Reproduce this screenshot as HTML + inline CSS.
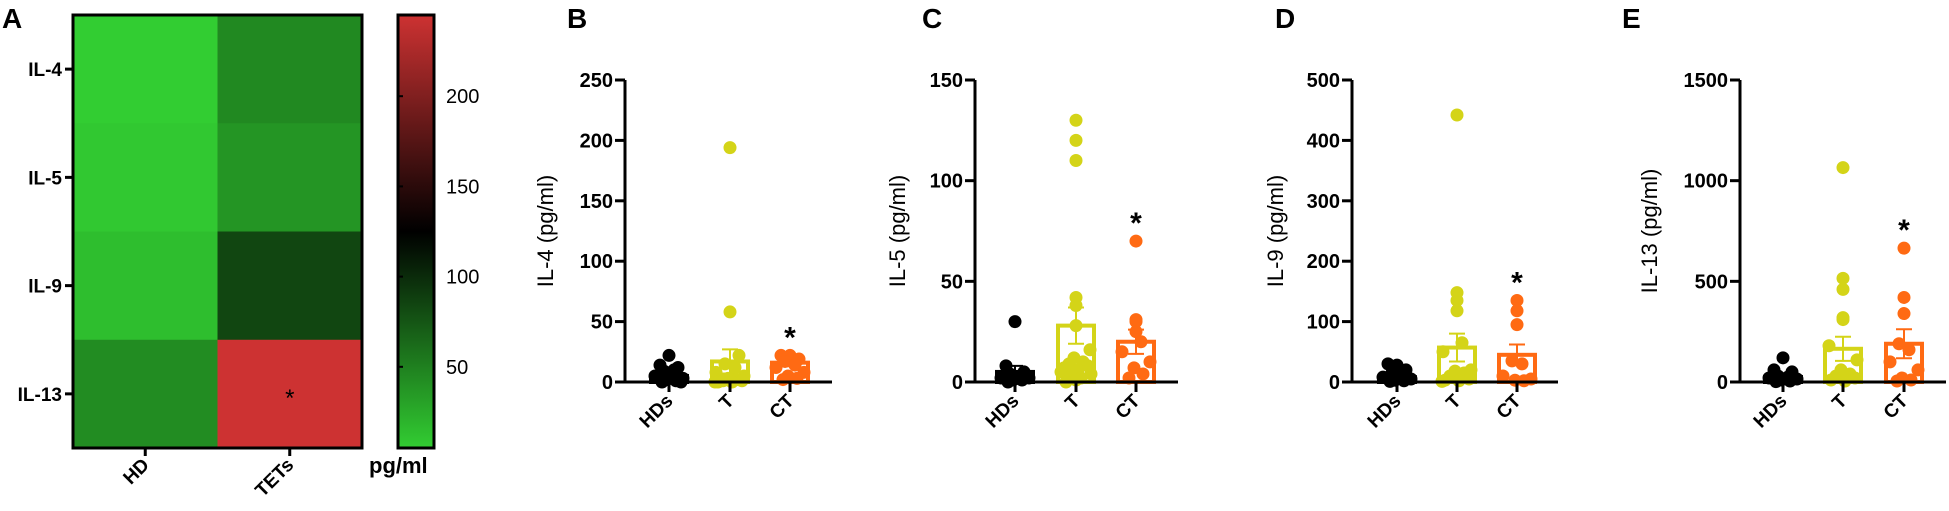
<!DOCTYPE html>
<html><head><meta charset="utf-8">
<style>
html,body{margin:0;padding:0;background:#fff;}
svg{display:block;font-family:"Liberation Sans",Arial,sans-serif;}
</style></head>
<body>
<svg id="fig" width="1949" height="511" viewBox="0 0 1949 511" xmlns="http://www.w3.org/2000/svg">
<defs>
<linearGradient id="cbar" x1="0" y1="1" x2="0" y2="0">
<stop offset="0" stop-color="rgb(50,205,50)"/>
<stop offset="0.5" stop-color="rgb(0,0,0)"/>
<stop offset="1" stop-color="rgb(205,50,50)"/>
</linearGradient>
</defs>
</svg>
<script>
// ---------- Heatmap data ----------
const hmRows = ["IL-4","IL-5","IL-9","IL-13"];
const hmCols = ["HD","TETs"];
const hmHD = [5, 8, 14, 43];
const hmTETs = [45, 38, 84, 245];
const hmStar = [[3,1]];
const cbTicks = [50,100,150,200];

// ---------- Bar/scatter panel data ----------
const groups = ["HDs","T","CT"];
const panelLetters = ["B","C","D","E"];
const panelTitles = ["IL-4 (pg/ml)","IL-5 (pg/ml)","IL-9 (pg/ml)","IL-13 (pg/ml)"];
const yMaxes = [250,150,500,1500];
const yTicksB = [0,50,100,150,200,250];
const yTicksC = [0,50,100,150];
const yTicksD = [0,100,200,300,400,500];
const yTicksE = [0,500,1000,1500];
const meansB = [5,17,16], semB = [3,10,3];
const meansC = [5,28,20], semC = [3,9,6];
const meansD = [8,57,45], semD = [3,23,17];
const meansE = [25,165,190], semE = [10,60,72];
const ptsB = [[22,14,12,9,10,5,3,2,1,0,0],[194,58,22,15,12,8,5,3,2,1,1,0,0,0],[22,22,19,17,14,12,8,5,3,2]];
const ptsC = [[30,8,5,4,3,2,2,1,1,0],[130,120,110,42,38,28,16,12,10,9,8,7,6,5,4,3,2,1,0],[70,31,30,25,20,15,10,7,4,2]];
const ptsD = [[28,30,20,15,10,8,5,3,2,1],[442,148,135,118,65,50,20,18,15,10,5,3,2,1],[135,118,95,35,30,10,5,3,2]];
const ptsE = [[120,60,50,30,25,20,15,10,5,2],[1065,515,460,320,310,180,110,60,40,30,20,10,5],[665,420,340,190,160,100,60,20,10,5]];

const NS="http://www.w3.org/2000/svg";
const svg=document.getElementById('fig');
function mk(tag,attrs,parent){const e=document.createElementNS(NS,tag);for(const k in attrs)e.setAttribute(k,attrs[k]);(parent||svg).appendChild(e);return e;}

// ---------- Heatmap ----------
const hmG=mk('g',{});


const lblA=mk('text',{x:2,y:28,'font-size':28,'font-weight':'bold'},hmG);lblA.textContent='A';


const hx0=73,hx1=362,hy0=15,hy1=448;
const cbMin=5,cbMax=245;
function colorFor(v){let f=(v-cbMin)/(cbMax-cbMin);f=Math.max(0,Math.min(1,f));
 if(f<0.5){const t=1-f/0.5;return `rgb(${Math.round(50*t)},${Math.round(205*t)},${Math.round(50*t)})`;}
 const t=(f-0.5)/0.5;return `rgb(${Math.round(205*t)},${Math.round(50*t)},${Math.round(50*t)})`;}
const cw=(hx1-hx0)/hmCols.length, ch=(hy1-hy0)/hmRows.length;
const hmVals=[hmHD,hmTETs];
for(let c=0;c<hmCols.length;c++)for(let r=0;r<hmRows.length;r++){
 const cell=mk('rect',{x:hx0+c*cw,y:hy0+r*ch,width:cw+0.5,height:ch+0.5,fill:colorFor(hmVals[c][r])},hmG);
 
 
}
mk('rect',{x:hx0,y:hy0,width:hx1-hx0,height:hy1-hy0,fill:'none',stroke:'#000','stroke-width':3},hmG);
hmStar.forEach(([r,c])=>{const s=mk('text',{x:hx0+(c+0.5)*cw,y:hy0+(r+0.5)*ch+12,'font-size':24,'text-anchor':'middle'},hmG);s.textContent='*';
 
 });
hmRows.forEach((n,r)=>{const y=hy0+(r+0.5)*ch;
 mk('line',{x1:hx0-8,x2:hx0,y1:y,y2:y,stroke:'#000','stroke-width':3},hmG);
 const t=mk('text',{x:hx0-11,y:y+7,'font-size':19,'font-weight':'bold','text-anchor':'end'},hmG);t.textContent=n;
 
 });
hmCols.forEach((n,c)=>{const x=hx0+(c+0.5)*cw;
 mk('line',{x1:x,x2:x,y1:hy1,y2:hy1+8,stroke:'#000','stroke-width':3},hmG);
 const t=mk('text',{x:x+5,y:hy1+18,'font-size':19,'font-weight':'bold','text-anchor':'end',transform:`rotate(-45 ${x+5} ${hy1+18})`},hmG);t.textContent=n;
 
 });
// colorbar
const cbx0=398,cbx1=434;
const cb=mk('rect',{x:cbx0,y:hy0,width:cbx1-cbx0,height:hy1-hy0,fill:'url(#cbar)',stroke:'#000','stroke-width':3},hmG);


cbTicks.forEach(v=>{const y=hy1-(v-cbMin)/(cbMax-cbMin)*(hy1-hy0);
 mk('line',{x1:cbx0,x2:cbx0+5,y1:y,y2:y,stroke:'#000','stroke-width':2},hmG);
 const t=mk('text',{x:446,y:y+7,'font-size':20},hmG);t.textContent=v;
 
 });
const pg=mk('text',{x:369,y:473,'font-size':22,'font-weight':'bold'},hmG);pg.textContent='pg/ml';



// ---------- Scatter bar panels ----------
const panelAxisX=[625,975,1352,1740];
const panelCatX=[[669,730,790],[1015,1076,1136],[1397,1457,1517],[1783,1843,1904]];
const panelAxisEnd=[832,1178,1558,1946];
const panelLetterX=[567,922,1275,1622];
const yTicksAll=[yTicksB,yTicksC,yTicksD,yTicksE];
const meansAll=[meansB,meansC,meansD,meansE];
const semAll=[semB,semC,semD,semE];
const ptsAll=[ptsB,ptsC,ptsD,ptsE];
const colors=['#000000','#d4d418','#ff6a13'];
const jit=[0,-9,9,-5,5,-14,14,-2,7,-7,12,-12,2,-15,15,-5,5,0,-10];
const py0=382,py1=80;
for(let p=0;p<4;p++){
 const g=mk('g',{});
 
 
 const ys=v=>py0-(v/yMaxes[p])*(py0-py1);
 const ax=panelAxisX[p];
 const L=mk('text',{x:panelLetterX[p],y:28,'font-size':28,'font-weight':'bold'},g);L.textContent=panelLetters[p];
 
 
 for(let k=0;k<3;k++){
  const cx=panelCatX[p][k],m=meansAll[p][k],s=semAll[p][k];
  const bar=mk('rect',{x:cx-18,y:ys(m),width:36,height:py0-ys(m),fill:'none',stroke:colors[k],'stroke-width':4},g);
  
  
  const eb=mk('path',{d:`M${cx} ${ys(m-s)}V${ys(m+s)}M${cx-8} ${ys(m+s)}H${cx+8}M${cx-8} ${ys(m-s)}H${cx+8}`,stroke:colors[k],'stroke-width':2,fill:'none'},g);
  
  
  ptsAll[p][k].forEach((v,i)=>{
   const d=mk('circle',{cx:cx+(v>yMaxes[p]*0.15?0:jit[i%jit.length]),cy:ys(v),r:6.5,fill:colors[k]},g);
   
   
  });
 }
 mk('line',{x1:ax,x2:ax,y1:py1,y2:py0,stroke:'#000','stroke-width':3},g);
 mk('line',{x1:ax,x2:panelAxisEnd[p],y1:py0,y2:py0,stroke:'#000','stroke-width':3},g);
 yTicksAll[p].forEach(v=>{const y=ys(v);
  mk('line',{x1:ax-10,x2:ax,y1:y,y2:y,stroke:'#000','stroke-width':3},g);
  const t=mk('text',{x:ax-12,y:y+7,'font-size':20,'font-weight':'bold','text-anchor':'end'},g);t.textContent=v;
  
  });
 groups.forEach((n,k)=>{const x=panelCatX[p][k];
  mk('line',{x1:x,x2:x,y1:py0,y2:py0+10,stroke:'#000','stroke-width':3},g);
  const t=mk('text',{x:x+5,y:py0+20,'font-size':19,'font-weight':'bold','text-anchor':'end',transform:`rotate(-45 ${x+5} ${py0+20})`},g);t.textContent=n;
  
  });
 const tx=[553,905,1283,1657][p];
 const yt=mk('text',{x:tx,y:231,'font-size':22,'text-anchor':'middle',transform:`rotate(-90 ${tx} 231)`},g);yt.textContent=panelTitles[p];
 
 
 const ctMax=Math.max(...ptsAll[p][2]);
 const st=mk('text',{x:panelCatX[p][2],y:Math.min(ys(ctMax),ys(meansAll[p][2]+semAll[p][2]))-8,'font-size':30,'font-weight':'bold','text-anchor':'middle'},g);
 st.textContent='*';
 
 
}
</script>
</body></html>
